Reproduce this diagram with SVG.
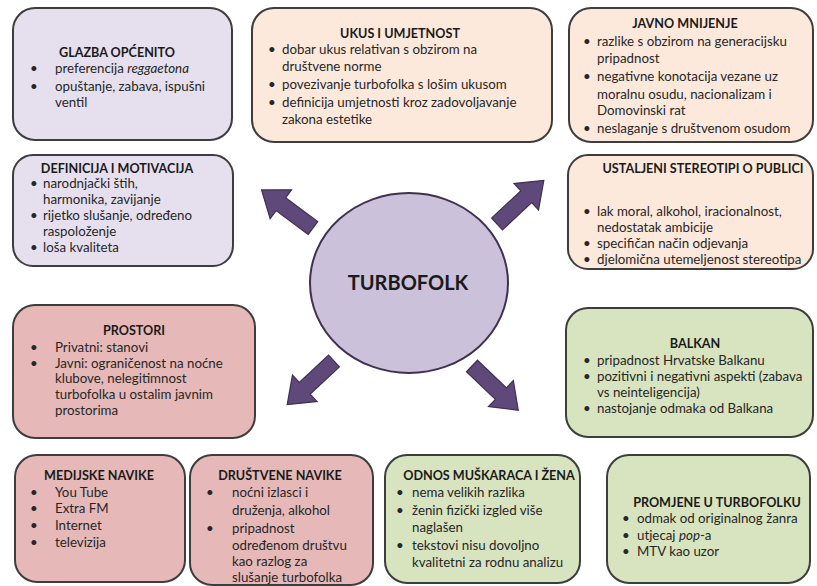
<svg xmlns="http://www.w3.org/2000/svg" width="817" height="586" viewBox="0 0 817 586">
<style>
.box{stroke:#3d3d3d;stroke-width:2}
.lav{fill:#e6e0ee}
.pea{fill:#fde9dc}
.pnk{fill:#e6b9b8}
.grn{fill:#d8e4bf}
text{font-family:Lato,"Liberation Sans",sans-serif;font-size:13.3px;fill:#262626}
.t{font-weight:bold;text-anchor:middle;fill:#1a1a1a;font-size:12.6px}
.arr{fill:#5f497a;stroke:#3f3151;stroke-width:1.2}
</style>
<defs>
<polygon id="ar" points="0,-8 40,-8 40,-18 64,0 40,18 40,8 0,8"/>
</defs>
<rect width="817" height="586" fill="#ffffff"/>

<g id="glazba">
<rect class="box lav" x="13" y="8" width="219" height="132" rx="22"/>
<text class="t" x="117" y="57">GLAZBA OPĆENITO</text>
<text x="30" y="73">•</text><text x="55" y="73">preferencija <tspan font-style="italic">reggaetona</tspan></text>
<text x="30" y="91">•</text><text x="55" y="91">opuštanje, zabava, ispušni</text>
<text x="55" y="107">ventil</text>
</g>

<g id="ukus">
<rect class="box pea" x="252" y="8" width="300" height="134" rx="22"/>
<text class="t" x="400" y="38">UKUS I UMJETNOST</text>
<text x="268" y="54">•</text><text x="282" y="54">dobar ukus relativan s obzirom na</text>
<text x="282" y="71">društvene norme</text>
<text x="268" y="89">•</text><text x="282" y="89">povezivanje turbofolka s lošim ukusom</text>
<text x="268" y="107">•</text><text x="282" y="107">definicija umjetnosti kroz zadovoljavanje</text>
<text x="282" y="124">zakona estetike</text>
</g>

<g id="javno">
<rect class="box pea" x="569" y="8" width="244" height="134" rx="22"/>
<text class="t" x="685" y="28">JAVNO MNIJENJE</text>
<text x="583" y="46">•</text><text x="597" y="46">razlike s obzirom na generacijsku</text>
<text x="597" y="63">pripadnost</text>
<text x="583" y="81">•</text><text x="597" y="81">negativne konotacija vezane uz</text>
<text x="597" y="99">moralnu osudu, nacionalizam i</text>
<text x="597" y="115">Domovinski rat</text>
<text x="583" y="133">•</text><text x="597" y="133">neslaganje s društvenom osudom</text>
</g>

<g id="definicija">
<rect class="box lav" x="13" y="155" width="220" height="111" rx="20"/>
<text class="t" x="117" y="173">DEFINICIJA I MOTIVACIJA</text>
<text x="30" y="188">•</text><text x="43" y="188">narodnjački štih,</text>
<text x="43" y="204">harmonika, zavijanje</text>
<text x="30" y="220">•</text><text x="43" y="220">rijetko slušanje, određeno</text>
<text x="43" y="236">raspoloženje</text>
<text x="30" y="252">•</text><text x="43" y="252">loša kvaliteta</text>
</g>

<g id="stereotipi">
<rect class="box pea" x="568" y="155" width="245" height="114" rx="20"/>
<text class="t" x="703" y="173">USTALJENI STEREOTIPI O PUBLICI</text>
<text x="583" y="216">•</text><text x="597" y="216">lak moral, alkohol, iracionalnost,</text>
<text x="597" y="232">nedostatak ambicije</text>
<text x="583" y="248">•</text><text x="597" y="248">specifičan način odjevanja</text>
<text x="583" y="264">•</text><text x="597" y="264">djelomična utemeljenost stereotipa</text>
</g>

<g id="turbofolk">
<ellipse cx="409" cy="283" rx="99" ry="90" fill="#ccc1da" stroke="#3f3151" stroke-width="2"/>
<text class="t" x="408" y="290" style="font-size:20px">TURBOFOLK</text>
</g>

<g id="connectors">
<use href="#ar" class="arr" transform="translate(313,228) rotate(216.5)"/>
<use href="#ar" class="arr" transform="translate(497,224) rotate(-43)"/>
<use href="#ar" class="arr" transform="translate(334,361) rotate(137)"/>
<use href="#ar" class="arr" transform="translate(472,366) rotate(43.7)"/>
</g>

<g id="prostori">
<rect class="box pnk" x="13" y="305" width="242" height="133" rx="22"/>
<text class="t" x="134" y="335">PROSTORI</text>
<text x="30" y="352">•</text><text x="55" y="352">Privatni: stanovi</text>
<text x="30" y="368">•</text><text x="55" y="368">Javni: ograničenost na noćne</text>
<text x="55" y="383">klubove, nelegitimnost</text>
<text x="55" y="399">turbofolka u ostalim javnim</text>
<text x="55" y="415">prostorima</text>
</g>

<g id="balkan">
<rect class="box grn" x="566" y="308" width="247" height="129" rx="22"/>
<text class="t" x="695" y="348">BALKAN</text>
<text x="583" y="365">•</text><text x="597" y="365">pripadnost Hrvatske Balkanu</text>
<text x="583" y="381">•</text><text x="597" y="381">pozitivni i negativni aspekti (zabava</text>
<text x="597" y="397">vs neinteligencija)</text>
<text x="583" y="413">•</text><text x="597" y="413">nastojanje odmaka od Balkana</text>
</g>

<g id="medijske">
<rect class="box pnk" x="15" y="455" width="170" height="127" rx="22"/>
<text class="t" x="99" y="480">MEDIJSKE NAVIKE</text>
<text x="30" y="497">•</text><text x="55" y="497">You Tube</text>
<text x="30" y="513">•</text><text x="55" y="513">Extra FM</text>
<text x="30" y="530">•</text><text x="55" y="530">Internet</text>
<text x="30" y="547">•</text><text x="55" y="547">televizija</text>
</g>

<g id="drustvene">
<rect class="box pnk" x="190" y="455" width="183" height="130" rx="22"/>
<text class="t" x="280" y="480">DRUŠTVENE NAVIKE</text>
<text x="206" y="497">•</text><text x="232" y="497">noćni izlasci i</text>
<text x="232" y="515">druženja, alkohol</text>
<text x="206" y="533">•</text><text x="232" y="533">pripadnost</text>
<text x="232" y="550">određenom društvu</text>
<text x="232" y="566">kao razlog za</text>
<text x="232" y="582">slušanje turbofolka</text>
</g>

<g id="odnos">
<rect class="box grn" x="385" y="455" width="195" height="128" rx="22"/>
<text class="t" x="489" y="480">ODNOS MUŠKARACA I ŽENA</text>
<text x="396" y="497">•</text><text x="412" y="497">nema velikih razlika</text>
<text x="396" y="515">•</text><text x="412" y="515">ženin fizički izgled više</text>
<text x="412" y="532">naglašen</text>
<text x="396" y="550">•</text><text x="412" y="550">tekstovi nisu dovoljno</text>
<text x="412" y="567">kvalitetni za rodnu analizu</text>
</g>

<g id="promjene">
<rect class="box grn" x="607" y="455" width="203" height="128" rx="22"/>
<text class="t" x="717" y="507">PROMJENE U TURBOFOLKU</text>
<text x="622" y="523">•</text><text x="637" y="523">odmak od originalnog žanra</text>
<text x="622" y="540">•</text><text x="637" y="540">utjecaj <tspan font-style="italic">pop</tspan>-a</text>
<text x="622" y="556">•</text><text x="637" y="556">MTV kao uzor</text>
</g>
</svg>
